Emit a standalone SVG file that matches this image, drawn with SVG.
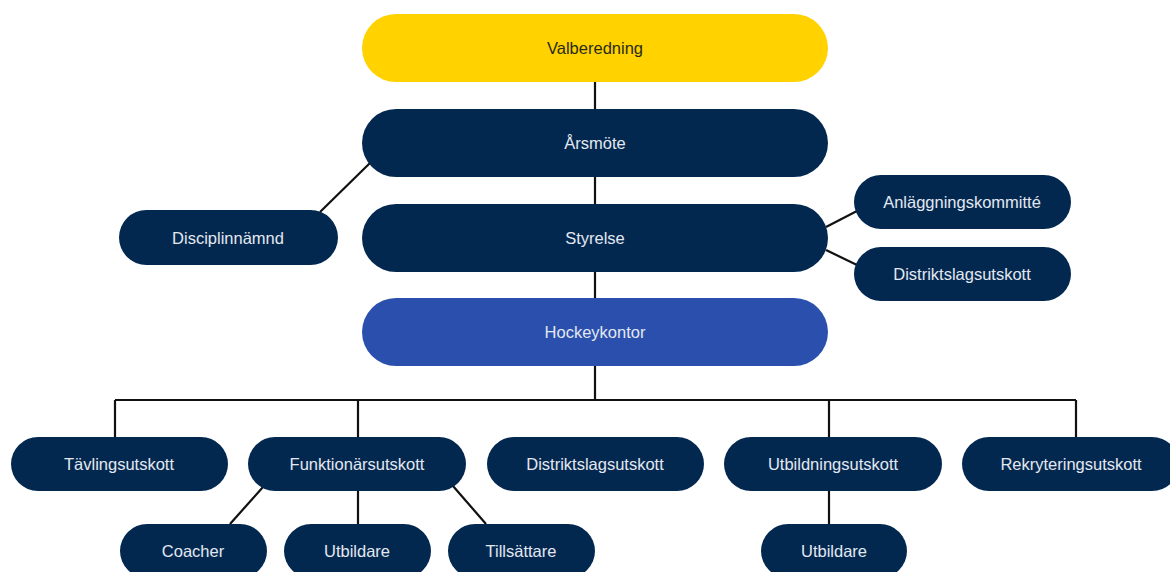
<svg xmlns="http://www.w3.org/2000/svg" width="1170" height="572" viewBox="0 0 1170 572">
<style>
.n{fill:#032850}
.t{font-family:"Liberation Sans",Arial,sans-serif;font-size:16.5px;fill:#e3e8f0;text-anchor:middle;dominant-baseline:central}
.c{stroke:#111;stroke-width:2.2;fill:none}
</style>
<rect width="1170" height="572" fill="#fff"/>
<g id="connectors">
<path class="c" d="M595 82V109M595 177V204M595 272V298M595 366V400M115 400H1076M115 400V437M358 400V437M829 400V437M1076 400V437"/>
<path class="c" d="M370 163L320 212M826 227L857 211M826 250L857 265"/>
<path class="c" d="M263 487L230 524M358 491V524M453 486L486 524M829 491V524"/>
</g>
<g id="valberedning"><rect x="362" y="14" width="466" height="68" rx="34" fill="#ffd200"/><text class="t" x="595" y="48" style="fill:#2a2a1a">Valberedning</text></g>
<g id="arsmote"><rect class="n" x="362" y="109" width="466" height="68" rx="34"/><text class="t" x="595" y="143">Årsmöte</text></g>
<g id="styrelse"><rect class="n" x="362" y="204" width="466" height="68" rx="34"/><text class="t" x="595" y="238">Styrelse</text></g>
<g id="hockeykontor"><rect x="362" y="298" width="466" height="68" rx="34" fill="#2a4fad"/><text class="t" x="595" y="332">Hockeykontor</text></g>
<g id="disciplinnamnd"><rect class="n" x="119" y="210" width="219" height="55" rx="27.5"/><text class="t" x="228" y="238">Disciplinnämnd</text></g>
<g id="anlaggning"><rect class="n" x="854" y="175" width="217" height="54" rx="27"/><text class="t" x="962" y="202">Anläggningskommitté</text></g>
<g id="distrikt1"><rect class="n" x="854" y="247" width="217" height="54" rx="27"/><text class="t" x="962" y="274">Distriktslagsutskott</text></g>
<g id="tavling"><rect class="n" x="11" y="437" width="217" height="54" rx="27"/><text class="t" x="119" y="464">Tävlingsutskott</text></g>
<g id="funktionar"><rect class="n" x="248" y="437" width="218" height="54" rx="27"/><text class="t" x="357" y="464">Funktionärsutskott</text></g>
<g id="distrikt2"><rect class="n" x="487" y="437" width="217" height="54" rx="27"/><text class="t" x="595" y="464">Distriktslagsutskott</text></g>
<g id="utbildning"><rect class="n" x="724" y="437" width="218" height="54" rx="27"/><text class="t" x="833" y="464">Utbildningsutskott</text></g>
<g id="rekrytering"><rect class="n" x="962" y="437" width="217" height="54" rx="27"/><text class="t" x="1071" y="464">Rekryteringsutskott</text></g>
<g id="coacher"><rect class="n" x="120" y="524" width="147" height="54" rx="27"/><text class="t" x="193" y="551">Coacher</text></g>
<g id="utbildare1"><rect class="n" x="284" y="524" width="147" height="54" rx="27"/><text class="t" x="357" y="551">Utbildare</text></g>
<g id="tillsattare"><rect class="n" x="448" y="524" width="147" height="54" rx="27"/><text class="t" x="521" y="551">Tillsättare</text></g>
<g id="utbildare2"><rect class="n" x="761" y="524" width="146" height="54" rx="27"/><text class="t" x="834" y="551">Utbildare</text></g>
</svg>
